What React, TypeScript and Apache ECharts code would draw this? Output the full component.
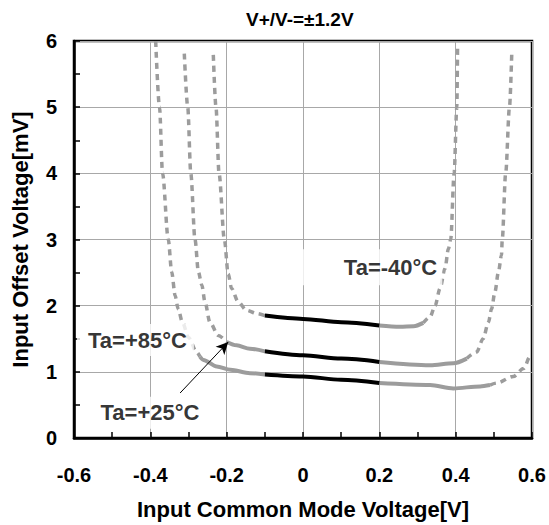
import React, { useEffect, useRef } from "react";
import * as echarts from "echarts";

// ---- Data ----
const titleText = "V+/V-=±1.2V";
const xAxisTitle = "Input Common Mode Voltage[V]";
const yAxisTitle = "Input Offset Voltage[mV]";
const xTickLabels = ["-0.6", "-0.4", "-0.2", "0", "0.2", "0.4", "0.6"];
const yTickLabels = ["0", "1", "2", "3", "4", "5", "6"];

// Ta=-40°C (top curve)
const coldLeftDash = [[-0.235, 5.79], [-0.228, 5.0], [-0.22, 4.0], [-0.206, 3.0], [-0.196, 2.48], [-0.187, 2.26], [-0.17, 2.06], [-0.148, 1.93], [-0.121, 1.88], [-0.1, 1.85]];
const coldBlack = [[-0.1, 1.85], [0, 1.8], [0.1, 1.75], [0.2, 1.7]];
const coldRightGray = [[0.2, 1.7], [0.254, 1.68], [0.29, 1.69], [0.315, 1.74]];
const coldRightDash = [[0.315, 1.74], [0.333, 1.83], [0.346, 2.0], [0.359, 2.26], [0.372, 2.56], [0.381, 2.86], [0.387, 3.0], [0.396, 4.0], [0.403, 5.0], [0.405, 5.94]];

// Ta=+25°C (middle curve)
const roomLeftDash = [[-0.311, 5.81], [-0.302, 5.0], [-0.294, 4.0], [-0.283, 3.0], [-0.274, 2.51], [-0.265, 2.31], [-0.257, 2.06], [-0.244, 1.75], [-0.222, 1.55], [-0.2, 1.45]];
const roomLeftGray = [[-0.2, 1.45], [-0.174, 1.4], [-0.139, 1.35], [-0.1, 1.31]];
const roomBlack = [[-0.1, 1.31], [0, 1.25], [0.1, 1.2], [0.2, 1.15]];
const roomRightGray = [[0.2, 1.15], [0.333, 1.1], [0.394, 1.13], [0.429, 1.2]];
const roomRightDash = [[0.429, 1.2], [0.455, 1.3], [0.472, 1.5], [0.486, 1.75], [0.494, 1.95], [0.503, 2.21], [0.512, 2.51], [0.52, 2.76], [0.522, 3.0], [0.531, 4.0], [0.541, 5.0], [0.547, 5.82]];

// Ta=+85°C (bottom curve)
const hotLeftDash = [[-0.386, 6.0], [-0.376, 5.0], [-0.368, 4.0], [-0.353, 3.0], [-0.344, 2.51], [-0.335, 2.15], [-0.327, 1.95], [-0.316, 1.75], [-0.3, 1.52], [-0.279, 1.3], [-0.27, 1.23]];
const hotLeftGray = [[-0.27, 1.23], [-0.261, 1.18], [-0.226, 1.08], [-0.19, 1.03], [-0.139, 0.98], [-0.1, 0.96]];
const hotBlack = [[-0.1, 0.96], [0, 0.93], [0.1, 0.88], [0.2, 0.83]];
const hotRightGray = [[0.2, 0.83], [0.333, 0.8], [0.394, 0.75], [0.464, 0.78], [0.49, 0.8]];
const hotRightDash = [[0.49, 0.8], [0.507, 0.83], [0.551, 0.93], [0.578, 1.05], [0.595, 1.23], [0.6, 1.27]];

// Annotations (data-space anchor of each label box)
const labelTexts = ["Ta=-40°C", "Ta=+85°C", "Ta=+25°C"];
const labelX = [0.177, -0.439, -0.401];
const labelY = [2.58, 1.48, 0.383];
const arrowFrom = [-0.322, 0.68];
const arrowTo = [-0.196, 1.45];

// ---- Styles ----
const FONT = "'Liberation Sans', Arial, Helvetica, sans-serif";
const GRAY = "#9c9c9c";
const BLACK = "#000000";
const labelPaddings = [
  [7, 5, 7, 45],
  [5, 7, 5, 11],
  [5, 5, 5, 5],
];

function solid(data: number[][], color: string) {
  return {
    type: "line",
    data,
    symbol: "none",
    showSymbol: false,
    silent: true,
    smooth: 0.3,
    smoothMonotone: "x",
    z: color === BLACK ? 4 : 3,
    lineStyle: { color, width: 4, type: "solid", cap: "butt" },
  };
}

function dashed(data: number[][]) {
  return {
    type: "line",
    data,
    symbol: "none",
    showSymbol: false,
    silent: true,
    smooth: 0.3,
    smoothMonotone: "x",
    z: 3,
    lineStyle: { color: GRAY, width: 3.5, type: [6, 5], cap: "butt" },
  };
}

export default function App() {
  const ref = useRef<HTMLDivElement>(null);

  useEffect(() => {
    if (!ref.current) return;
    const chart = echarts.init(ref.current, null, { renderer: "svg" });

    const labelSeries = {
      type: "scatter",
      symbol: "rect",
      symbolSize: 1,
      silent: true,
      z: 10,
      itemStyle: { color: "rgba(0,0,0,0)" },
      data: labelTexts.map((t, i) => ({
        value: [labelX[i], labelY[i]],
        name: t,
        label: { padding: labelPaddings[i] },
      })),
      label: {
        show: true,
        position: "inside",
        formatter: (p: any) => p.name,
        color: BLACK,
        fontFamily: FONT,
        fontWeight: "bold",
        fontSize: 22,
        lineHeight: 22,
        backgroundColor: "#ffffff",
      },
      markLine: {
        silent: true,
        symbol: ["none", "arrow"],
        symbolSize: [9, 12],
        label: { show: false },
        lineStyle: { color: BLACK, width: 1, type: "solid" },
        data: [[{ coord: arrowFrom }, { coord: arrowTo }]],
      },
    };

    chart.setOption({
      animation: false,
      backgroundColor: "#ffffff",
      title: {
        text: titleText,
        left: 241,
        top: 5,
        textStyle: { fontFamily: FONT, fontWeight: "bold", fontSize: 19, color: BLACK },
      },
      grid: {
        left: 74,
        top: 41,
        width: 458,
        height: 399,
        show: true,
        borderColor: BLACK,
        borderWidth: 2.5,
        backgroundColor: "transparent",
      },
      xAxis: {
        type: "value",
        min: -0.6,
        max: 0.6,
        interval: 0.2,
        name: xAxisTitle,
        nameLocation: "middle",
        nameGap: 60,
        nameTextStyle: { fontFamily: FONT, fontWeight: "bold", fontSize: 22, color: BLACK },
        axisLine: { show: true, onZero: false, lineStyle: { color: BLACK, width: 2.5 } },
        axisTick: { show: true, inside: true, length: 6, lineStyle: { color: BLACK, width: 1.5 } },
        minorTick: { show: true, splitNumber: 2, length: 6, lineStyle: { color: BLACK, width: 1.5 } },
        splitLine: { show: true, lineStyle: { color: "#a8a8a8", width: 1 } },
        axisLabel: {
          margin: 27,
          fontFamily: FONT,
          fontWeight: "bold",
          fontSize: 20,
          color: BLACK,
          formatter: (_v: number, i: number) => xTickLabels[i] ?? "",
        },
      },
      yAxis: {
        type: "value",
        min: 0,
        max: 6,
        interval: 1,
        name: yAxisTitle,
        nameLocation: "middle",
        nameGap: 43,
        nameTextStyle: { fontFamily: FONT, fontWeight: "bold", fontSize: 22, color: BLACK },
        axisLine: { show: true, onZero: false, lineStyle: { color: BLACK, width: 2.5 } },
        axisTick: { show: true, inside: true, length: 6, lineStyle: { color: BLACK, width: 1.5 } },
        minorTick: { show: true, splitNumber: 2, length: 6, lineStyle: { color: BLACK, width: 1.5 } },
        splitLine: { show: true, lineStyle: { color: "#a8a8a8", width: 1 } },
        axisLabel: {
          margin: 17,
          fontFamily: FONT,
          fontWeight: "bold",
          fontSize: 20,
          color: BLACK,
          formatter: (_v: number, i: number) => yTickLabels[i] ?? "",
        },
      },
      series: [
        dashed(coldLeftDash),
        solid(coldBlack, BLACK),
        solid(coldRightGray, GRAY),
        dashed(coldRightDash),
        dashed(roomLeftDash),
        solid(roomLeftGray, GRAY),
        solid(roomBlack, BLACK),
        solid(roomRightGray, GRAY),
        dashed(roomRightDash),
        dashed(hotLeftDash),
        solid(hotLeftGray, GRAY),
        solid(hotBlack, BLACK),
        solid(hotRightGray, GRAY),
        dashed(hotRightDash),
        labelSeries,
      ],
    });

    return () => chart.dispose();
  }, []);

  return (
    <div
      ref={ref}
      style={{ position: "absolute", left: 0, top: 0, width: 549, height: 525 }}
    />
  );
}
